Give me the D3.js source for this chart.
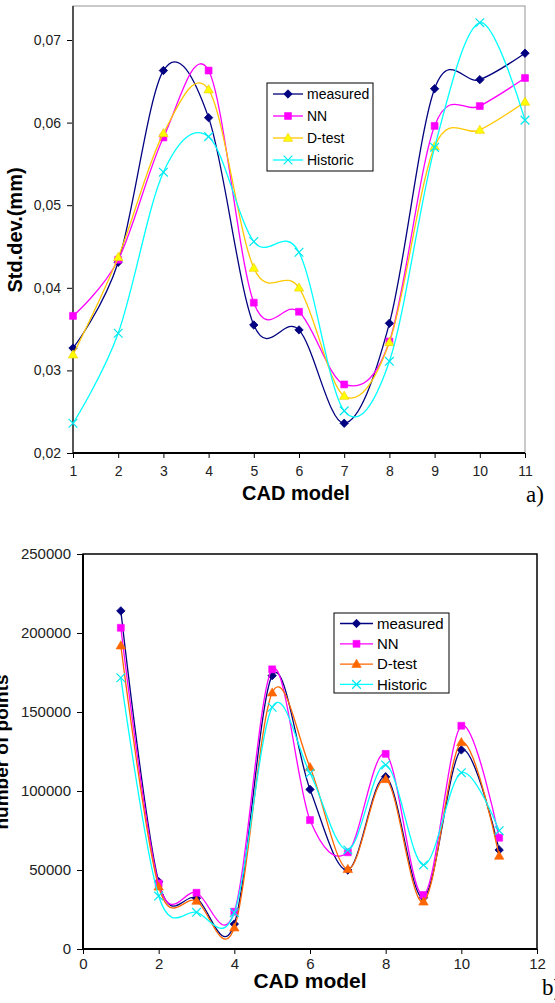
<!DOCTYPE html>
<html>
<head>
<meta charset="utf-8">
<script src="https://cdn.jsdelivr.net/npm/d3@7"></script>
<style>
body { margin: 0; background: #fff; }
svg { display: block; }
</style>
</head>
<body>
<svg id="chart" width="555" height="1003"></svg>
<script>
// series names shared by both panels
const seriesNames = ["measured", "NN", "D-test", "Historic"];

// --- panel a) : std. deviation per CAD model ---
const modelsA = [1, 2, 3, 4, 5, 6, 7, 8, 9, 10, 11];
const measuredA = [0.0327, 0.0431, 0.0663, 0.0606, 0.0355, 0.0349, 0.0236, 0.0357, 0.0641, 0.0652, 0.0684];
const nnA       = [0.0366, 0.0434, 0.0582, 0.0663, 0.0382, 0.0371, 0.0283, 0.0335, 0.0596, 0.0620, 0.0654];
const dtestA    = [0.0319, 0.0437, 0.0587, 0.0640, 0.0424, 0.0400, 0.0269, 0.0334, 0.0571, 0.0591, 0.0625];
const historicA = [0.0236, 0.0345, 0.0540, 0.0583, 0.0456, 0.0443, 0.0251, 0.0311, 0.0570, 0.0721, 0.0603];
const yTicksA = [0.02, 0.03, 0.04, 0.05, 0.06, 0.07];
const xTicksA = [1, 2, 3, 4, 5, 6, 7, 8, 9, 10, 11];

// --- panel b) : number of points per CAD model ---
const modelsB = [1, 2, 3, 4, 5, 6, 7, 8, 9, 10, 11];
const measuredB = [214000, 42600, 32100, 15800, 173000, 101000, 50000, 109000, 32500, 126000, 62700];
const nnB       = [203300, 41500, 35600, 23600, 177000, 81600, 61200, 123500, 34200, 141300, 70400];
const dtestB    = [192000, 39400, 30400, 13500, 162200, 115000, 50500, 107400, 29900, 130800, 58900];
const historicB = [171700, 33500, 23200, 23000, 153000, 111200, 62700, 116500, 53200, 111600, 74900];
const yTicksB = [0, 50000, 100000, 150000, 200000, 250000];
const xTicksB = [0, 2, 4, 6, 8, 10, 12];

const svg = d3.select("#chart");
const sans = "'Liberation Sans', Arial, sans-serif";
const serif = "'Liberation Serif', 'Times New Roman', serif";
const comma = d3.formatLocale({decimal: ",", thousands: ".", grouping: [3], currency: ["", ""]});

// marker drawing: diamond, square, triangle, x
function marker(g, kind, fill, stroke, s) {
    if (kind === "diamond") {
        g.append("path").attr("d", d3.symbol(d3.symbolSquare, s * s * 0.55)())
            .attr("transform", "rotate(45)").attr("fill", fill).attr("stroke", stroke).attr("stroke-width", 0.8);
    } else if (kind === "square") {
        g.append("path").attr("d", d3.symbol(d3.symbolSquare, s * s * 0.75)())
            .attr("fill", fill).attr("stroke", stroke).attr("stroke-width", 0.6);
    } else if (kind === "triangle") {
        g.append("path").attr("d", d3.symbol(d3.symbolTriangle, s * s * 0.6)())
            .attr("transform", "translate(0,0.6)")
            .attr("fill", fill).attr("stroke", stroke).attr("stroke-width", 0.6);
    } else {
        g.append("path").attr("d", d3.symbol(d3.symbolX, s * s * 0.8)())
            .attr("fill", "none").attr("stroke", stroke).attr("stroke-width", 1.2);
    }
}

function drawPanel(cfg) {
    const g = svg.append("g");
    const x = d3.scaleLinear().domain(cfg.xDomain).range(cfg.xRange);
    const y = d3.scaleLinear().domain(cfg.yDomain).range(cfg.yRange);

    // frame
    g.append("rect")
        .attr("x", cfg.xRange[0]).attr("y", cfg.top)
        .attr("width", cfg.xRange[1] - cfg.xRange[0]).attr("height", cfg.yRange[0] - cfg.top)
        .attr("fill", "none").attr("stroke", cfg.frameColor).attr("stroke-width", cfg.frameWidth);

    // y axis
    const ya = g.append("g").attr("transform", `translate(${cfg.xRange[0]},0)`)
        .call(d3.axisLeft(y).tickValues(cfg.yTicks).tickFormat(cfg.yFormat).tickSizeOuter(0).tickSize(6).tickPadding(6));
    ya.select(".domain").remove();
    ya.selectAll("line").attr("stroke", "#000");
    ya.selectAll("text").attr("font-family", sans).attr("font-size", cfg.tickFont).attr("fill", "#222");
    g.append("line")
        .attr("x1", cfg.xRange[0]).attr("x2", cfg.xRange[0])
        .attr("y1", cfg.top).attr("y2", cfg.yRange[0])
        .attr("stroke", cfg.leftColor).attr("stroke-width", 2);

    // x axis
    const xa = g.append("g").attr("transform", `translate(0,${cfg.yRange[0]})`)
        .call(d3.axisBottom(x).tickValues(cfg.xTicks).tickFormat(d3.format("d")).tickSizeOuter(0).tickSize(5).tickPadding(cfg.xPad));
    xa.select(".domain").remove();
    xa.selectAll("line").attr("stroke", "#000");
    xa.selectAll("text").attr("font-family", sans).attr("font-size", cfg.tickFont).attr("fill", "#222");
    g.append("line")
        .attr("x1", cfg.xRange[0]).attr("x2", cfg.xRange[1])
        .attr("y1", cfg.yRange[0]).attr("y2", cfg.yRange[0])
        .attr("stroke", "#000").attr("stroke-width", 2);

    // series
    const line = d3.line().x(d => x(d[0])).y(d => y(d[1])).curve(d3.curveCatmullRom.alpha(0));
    cfg.series.forEach(s => {
        const pts = cfg.models.map((m, i) => [m, s.values[i]]);
        g.append("path").attr("d", line(pts)).attr("fill", "none")
            .attr("stroke", s.line).attr("stroke-width", 1.3);
        pts.forEach(p => {
            const mg = g.append("g").attr("transform", `translate(${x(p[0])},${y(p[1])})`);
            marker(mg, s.kind, s.fill, s.stroke, 8);
        });
    });

    // legend
    const L = cfg.legend;
    const lg = g.append("g");
    lg.append("rect").attr("x", L.x).attr("y", L.y).attr("width", L.w).attr("height", L.h)
        .attr("fill", "#fff").attr("stroke", "#000").attr("stroke-width", 1);
    cfg.series.forEach((s, i) => {
        const ry = L.y + L.first + i * L.step;
        lg.append("line").attr("x1", L.x + 6).attr("x2", L.x + 6 + L.lineLen)
            .attr("y1", ry).attr("y2", ry).attr("stroke", s.line).attr("stroke-width", 1.3);
        const mg = lg.append("g").attr("transform", `translate(${L.x + 6 + L.lineLen / 2},${ry})`);
        marker(mg, s.kind, s.fill, s.stroke, 8);
        lg.append("text").attr("x", L.x + 10 + L.lineLen).attr("y", ry).attr("dy", "0.35em")
            .attr("font-family", sans).attr("font-size", L.font).attr("fill", "#000").text(seriesNames[i]);
    });

    // titles
    g.append("text").attr("x", cfg.xTitle.x).attr("y", cfg.xTitle.y).attr("text-anchor", "middle")
        .attr("font-family", sans).attr("font-weight", "bold").attr("font-size", cfg.xTitle.size)
        .text("CAD model");
    g.append("text").attr("transform", `translate(${cfg.yTitle.x},${cfg.yTitle.y}) rotate(-90)`)
        .attr("text-anchor", "middle").attr("font-family", sans).attr("font-weight", "bold")
        .attr("font-size", cfg.yTitle.size).text(cfg.yTitle.text);
    g.append("text").attr("x", cfg.tag.x).attr("y", cfg.tag.y)
        .attr("font-family", serif).attr("font-size", 23).text(cfg.tag.text);
}

drawPanel({
    models: modelsA,
    xDomain: [1, 11], xRange: [73, 525],
    yDomain: [0.02, 0.07], yRange: [453, 40], top: 6,
    yTicks: yTicksA, xTicks: xTicksA,
    yFormat: comma.format(".2f"), tickFont: 14, xPad: 8,
    frameColor: "#a6a6a6", frameWidth: 1.2, leftColor: "#555",
    series: [
        {values: measuredA, line: "#000080", fill: "#000080", stroke: "#000080", kind: "diamond"},
        {values: nnA, line: "#ff00ff", fill: "#ff00ff", stroke: "#ff00ff", kind: "square"},
        {values: dtestA, line: "#ffc800", fill: "#ffff00", stroke: "#f0c800", kind: "triangle"},
        {values: historicA, line: "#00ffff", fill: "none", stroke: "#00e8f0", kind: "x"}
    ],
    legend: {x: 267, y: 83, w: 106, h: 88, first: 11, step: 22, lineLen: 30, font: 14},
    xTitle: {x: 296, y: 500, size: 20},
    yTitle: {x: 22, y: 230, size: 20, text: "Std.dev.(mm)"},
    tag: {x: 526, y: 502, text: "a)"}
});

drawPanel({
    models: modelsB,
    xDomain: [0, 12], xRange: [83, 537],
    yDomain: [0, 250000], yRange: [949, 554], top: 554,
    yTicks: yTicksB, xTicks: xTicksB,
    yFormat: d3.format("d"), tickFont: 15, xPad: 4,
    frameColor: "#000", frameWidth: 1.5, leftColor: "#000",
    series: [
        {values: measuredB, line: "#000080", fill: "#000080", stroke: "#000080", kind: "diamond"},
        {values: nnB, line: "#ff00ff", fill: "#ff00ff", stroke: "#ff00ff", kind: "square"},
        {values: dtestB, line: "#ff6600", fill: "#ff6600", stroke: "#ff6600", kind: "triangle"},
        {values: historicB, line: "#00ffff", fill: "none", stroke: "#00e8f0", kind: "x"}
    ],
    legend: {x: 334, y: 613, w: 115, h: 80, first: 10.5, step: 20.3, lineLen: 33, font: 15},
    xTitle: {x: 310, y: 988, size: 21},
    yTitle: {x: 8, y: 752, size: 19, text: "number of points"},
    tag: {x: 542, y: 995, text: "b)"}
});
</script>
</body>
</html>
